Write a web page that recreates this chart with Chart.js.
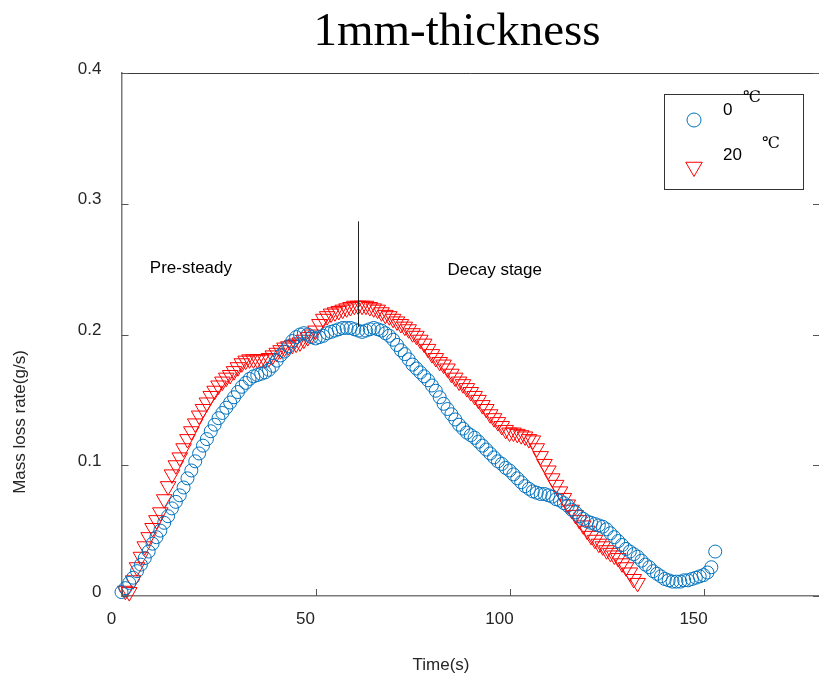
<!DOCTYPE html>
<html lang="en">
<head>
    <meta charset="UTF-8">
    <title>1mm-thickness</title>
    <style>
        html, body {
            margin: 0;
            padding: 0;
            background: #fff;
            overflow: hidden;
        }
        canvas {
            display: block;
        }
    </style>
</head>
<body>
    <canvas id="myChart" width="830" height="679"></canvas>
    <script src="https://cdn.jsdelivr.net/npm/chart.js"></script>
    <script>
        // Messwerte, eine Probe pro Sekunde
        const sampleStep = 1;
        const blueStart = 0;   // 0 °C beginnt bei t = 0 s
        const redStart = 1;    // 20 °C beginnt bei t = 1 s

        const blueRate = [
            0.003, 0.006, 0.010, 0.014, 0.019, 0.024, 0.029, 0.034, 0.040, 0.045,
            0.050, 0.056, 0.061, 0.067, 0.072, 0.077, 0.083, 0.090, 0.096, 0.103,
            0.109, 0.115, 0.120, 0.126, 0.131, 0.136, 0.140, 0.144, 0.148, 0.152,
            0.156, 0.160, 0.163, 0.166, 0.168, 0.169, 0.170, 0.171, 0.173, 0.176,
            0.180, 0.184, 0.187, 0.191, 0.195, 0.198, 0.200, 0.201, 0.200, 0.198,
            0.197, 0.198, 0.199, 0.201, 0.202, 0.203, 0.204, 0.205, 0.205, 0.205,
            0.204, 0.203, 0.202, 0.203, 0.204, 0.205, 0.204, 0.203, 0.201, 0.199,
            0.196, 0.192, 0.188, 0.185, 0.181, 0.177, 0.174, 0.171, 0.168, 0.165,
            0.161, 0.157, 0.152, 0.147, 0.143, 0.139, 0.135, 0.131, 0.128, 0.125,
            0.123, 0.121, 0.118, 0.115, 0.112, 0.109, 0.106, 0.103, 0.101, 0.098,
            0.096, 0.093, 0.090, 0.087, 0.084, 0.082, 0.080, 0.079, 0.078, 0.078,
            0.077, 0.076, 0.074, 0.073, 0.071, 0.069, 0.066, 0.064, 0.061, 0.059,
            0.057, 0.056, 0.055, 0.054, 0.053, 0.051, 0.048, 0.045, 0.042, 0.039,
            0.036, 0.034, 0.032, 0.030, 0.027, 0.024, 0.022, 0.019, 0.017, 0.015,
            0.013, 0.012, 0.011, 0.011, 0.011, 0.012, 0.012, 0.013, 0.014, 0.015,
            0.016, 0.018, 0.022, 0.034
        ];

        const redRate = [
            0.004, 0.003, 0.012, 0.022, 0.030, 0.038, 0.045, 0.052, 0.058, 0.064,
            0.074, 0.084, 0.093, 0.100, 0.106, 0.113, 0.120, 0.126, 0.132, 0.138,
            0.143, 0.148, 0.153, 0.157, 0.161, 0.164, 0.167, 0.169, 0.172, 0.175,
            0.178, 0.180, 0.181, 0.181, 0.181, 0.181, 0.181, 0.182, 0.184, 0.186,
            0.188, 0.190, 0.191, 0.192, 0.193, 0.194, 0.196, 0.198, 0.200, 0.203,
            0.208, 0.212, 0.214, 0.216, 0.217, 0.218, 0.219, 0.220, 0.221, 0.222,
            0.222, 0.222, 0.222, 0.221, 0.220, 0.219, 0.217, 0.215, 0.214, 0.212,
            0.210, 0.208, 0.206, 0.204, 0.201, 0.199, 0.196, 0.193, 0.189, 0.185,
            0.182, 0.179, 0.177, 0.174, 0.170, 0.167, 0.164, 0.162, 0.159, 0.156,
            0.153, 0.150, 0.146, 0.143, 0.139, 0.136, 0.133, 0.130, 0.127, 0.125,
            0.125, 0.124, 0.123, 0.122, 0.120, 0.119, 0.113, 0.107, 0.101, 0.096,
            0.090, 0.085, 0.080, 0.075, 0.070, 0.066, 0.062, 0.058, 0.054, 0.050,
            0.046, 0.043, 0.040, 0.038, 0.035, 0.033, 0.031, 0.029, 0.025, 0.022,
            0.018, 0.013, 0.010
        ];

        const xTicks = [0, 50, 100, 150];
        const xTickLabels = ['0', '50', '100', '150'];
        const yTicks = [0, 0.1, 0.2, 0.3, 0.4];
        const yTickLabels = ['0', '0.1', '0.2', '0.3', '0.4'];

        // Beschriftungen im Diagramm (Datenkoordinaten)
        const noteTexts = ['Pre-steady', 'Decay stage'];
        const noteX = [7.3, 84];
        const noteY = [0.2505, 0.249];
        const markerX = 60.9;
        const markerRange = [0.206, 0.2865];

        const BLUE = '#0072BD';
        const RED = '#FF0000';
        const SANS = '"Liberation Sans", Arial, sans-serif';
        const SERIF = '"Liberation Serif", "Times New Roman", serif';

        function toPoints(values, start) {
            return values.map((v, i) => ({x: start + i * sampleStep, y: v}));
        }

        function strokeLine(ctx, x1, y1, x2, y2) {
            ctx.beginPath();
            ctx.moveTo(x1, y1);
            ctx.lineTo(x2, y2);
            ctx.stroke();
        }

        const decorPlugin = {
            id: 'decor',
            afterDraw(chart) {
                const {ctx, chartArea: a, scales: {x, y}} = chart;
                ctx.save();

                // obere Rahmenlinie
                ctx.strokeStyle = '#3a3a3a';
                ctx.lineWidth = 1;
                strokeLine(ctx, a.left, a.top + 0.5, a.right, a.top + 0.5);

                // Ticks nach innen
                ctx.strokeStyle = '#555';
                xTicks.forEach(v => {
                    const px = Math.round(x.getPixelForValue(v)) + 0.5;
                    strokeLine(ctx, px, a.bottom, px, a.bottom - 7);
                });
                yTicks.forEach(v => {
                    const py = Math.round(y.getPixelForValue(v)) + 0.5;
                    strokeLine(ctx, a.left, py, a.left + 7, py);
                    strokeLine(ctx, a.right - 7, py, a.right, py);
                });

                // Trennlinie zwischen den Phasen
                ctx.strokeStyle = '#222';
                const mx = Math.round(x.getPixelForValue(markerX)) + 0.5;
                strokeLine(ctx, mx, y.getPixelForValue(markerRange[0]), mx, y.getPixelForValue(markerRange[1]));

                // Phasen-Beschriftung
                ctx.fillStyle = '#000';
                ctx.font = '17px ' + SANS;
                ctx.textAlign = 'left';
                ctx.textBaseline = 'middle';
                noteTexts.forEach((t, i) => {
                    ctx.fillText(t, x.getPixelForValue(noteX[i]), y.getPixelForValue(noteY[i]));
                });

                // Achsentitel
                ctx.fillStyle = '#262626';
                ctx.textAlign = 'center';
                ctx.fillText('Time(s)', 441, 665);
                ctx.save();
                ctx.translate(20, 422);
                ctx.rotate(-Math.PI / 2);
                ctx.fillText('Mass loss rate(g/s)', 0, 0);
                ctx.restore();

                // Titel
                ctx.fillStyle = '#000';
                ctx.font = '47px ' + SERIF;
                ctx.textBaseline = 'alphabetic';
                ctx.fillText('1mm-thickness', 457, 45);

                // Legende
                ctx.fillStyle = '#fff';
                ctx.fillRect(664, 94, 139, 96);
                ctx.strokeStyle = '#333';
                ctx.lineWidth = 1;
                ctx.strokeRect(664.5, 94.5, 139, 95);
                ctx.strokeStyle = BLUE;
                ctx.beginPath();
                ctx.arc(694, 120, 7, 0, Math.PI * 2);
                ctx.stroke();
                ctx.strokeStyle = RED;
                ctx.beginPath();
                const r = 9.5;
                ctx.moveTo(694, 167 + r);
                ctx.lineTo(694 - r * Math.sin(Math.PI / 3), 167 - r / 2);
                ctx.lineTo(694 + r * Math.sin(Math.PI / 3), 167 - r / 2);
                ctx.closePath();
                ctx.stroke();

                ctx.fillStyle = '#000';
                ctx.font = '17px ' + SANS;
                ctx.textAlign = 'left';
                ctx.textBaseline = 'middle';
                ctx.fillText('0', 723, 110);
                ctx.fillText('20', 723, 155);
                ctx.font = '16px ' + SERIF + ', "DejaVu Serif", "Noto Sans CJK SC"';
                ctx.textAlign = 'center';
                ctx.fillText('℃', 752, 98);
                ctx.fillText('℃', 771, 144);

                ctx.restore();
            }
        };

        Chart.defaults.font.family = SANS;
        Chart.defaults.font.size = 17;
        Chart.defaults.color = '#262626';

        const ctx = document.getElementById('myChart').getContext('2d');
        const myChart = new Chart(ctx, {
            type: 'scatter',
            data: {
                datasets: [{
                    label: '0 ℃',
                    data: toPoints(blueRate, blueStart),
                    showLine: false,
                    pointStyle: 'circle',
                    pointRadius: 6.5,
                    pointBorderWidth: 1,
                    borderColor: BLUE,
                    backgroundColor: 'rgba(0,0,0,0)',
                    clip: false
                }, {
                    label: '20 ℃',
                    data: toPoints(redRate, redStart),
                    showLine: false,
                    pointStyle: 'triangle',
                    rotation: 180,
                    pointRadius: 9,
                    pointBorderWidth: 1,
                    borderColor: RED,
                    backgroundColor: 'rgba(0,0,0,0)',
                    clip: false
                }]
            },
            options: {
                responsive: false,
                animation: false,
                events: [],
                layout: {
                    padding: {top: 73, right: 5, left: 0, bottom: 0}
                },
                plugins: {
                    legend: {display: false},
                    title: {display: false},
                    tooltip: {enabled: false}
                },
                scales: {
                    x: {
                        type: 'linear',
                        min: 0,
                        max: 180,
                        grid: {display: false, drawTicks: false},
                        border: {display: true, color: '#7a7a7a', width: 1.5},
                        afterBuildTicks: s => { s.ticks = xTicks.map(v => ({value: v})); },
                        afterFit: s => { s.height = 83; },
                        ticks: {
                            padding: 13,
                            labelOffset: -10,
                            maxRotation: 0,
                            callback: (v, i) => xTickLabels[i]
                        }
                    },
                    y: {
                        type: 'linear',
                        min: 0,
                        max: 0.4,
                        grid: {display: false, drawTicks: false},
                        border: {display: true, color: '#7a7a7a', width: 1.5},
                        afterBuildTicks: s => { s.ticks = yTicks.map(v => ({value: v})); },
                        afterFit: s => { s.width = 121.5; },
                        ticks: {
                            padding: 20,
                            labelOffset: -4,
                            callback: (v, i) => yTickLabels[i]
                        }
                    }
                }
            },
            plugins: [decorPlugin]
        });
    </script>
</body>
</html>
